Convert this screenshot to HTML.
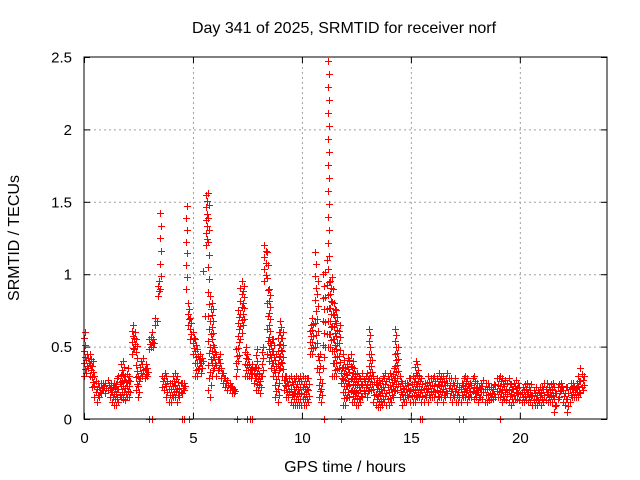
<!DOCTYPE html>
<html><head><meta charset="utf-8"><style>
body{margin:0;background:#fff}
svg{display:block;font-family:"Liberation Sans",sans-serif}
</style></head><body>
<svg id="chart" width="640" height="480">
<text x="344" y="33" text-anchor="middle" font-size="16">Day 341 of 2025, SRMTID for receiver norf</text>
<text transform="translate(19,238) rotate(-90)" text-anchor="middle" font-size="16">SRMTID / TECUs</text>
<text x="345" y="472" text-anchor="middle" font-size="16">GPS time / hours</text>
<g id="grid"></g>
<g id="ticks"></g>
<g id="marks"></g>
<rect x="84" y="57" width="523" height="362" fill="none" stroke="#000" stroke-width="1"/>
</svg>
<script>
const xTicks=[0,5,10,15,20];
const yTicks=[0,0.5,1,1.5,2,2.5];
const yTickLabels=["0","0.5","1","1.5","2","2.5"];
const startHour=0;
const stepHour=0.1;
const hiVals=[
.6,.45,.42,.45,.4,.3,.25,.22,.25,.25,
.25,.27,.25,.22,.25,.28,.3,.38,.4,.3,
.35,.3,.65,.6,.55,.3,.4,.42,.38,.35,
.55,.6,.55,.7,.95,1.42,.3,.32,.3,.25,
.25,.3,.32,.3,.25,.25,.25,1.47,.8,.7,
.6,.55,.48,.45,.42,.4,1.55,1.56,.85,.8,
.5,.45,.45,.35,.32,.28,.27,.25,.22,.21,
.48,.75,.95,.92,.5,.45,.38,.38,.35,.48,
.35,.3,.5,1.2,1.15,.9,.55,.55,.45,.6,
.68,.6,.3,.3,.28,.3,.28,.3,.28,.3,
.3,.28,.28,.28,.65,.7,1.15,.95,.45,.25,
1.0,1.1,2.47,.95,.98,.8,.75,.65,.35,.45,
.35,.42,.45,.4,.35,.32,.3,.28,.32,.3,
.32,.62,.45,.3,.28,.27,.25,.3,.32,.3,
.32,.3,.35,.62,.5,.3,.25,.25,.25,.28,
.28,.3,.4,.38,.3,.28,.25,.25,.3,.28,
.28,.3,.28,.32,.3,.3,.28,.32,.28,.25,
.28,.25,.22,.25,.28,.3,.28,.25,.28,.3,
.25,.22,.25,.27,.25,.25,.22,.22,.24,.28,
.28,.3,.28,.27,.25,.28,.24,.25,.27,.25,
.22,.22,.24,.25,.22,.24,.2,.22,.2,.22,
.22,.25,.25,.22,.24,.25,.22,.22,.24,.25,
.2,.22,.22,.25,.25,.22,.25,.3,.35,.3];
const loVals=[
.3,.32,.35,.3,.22,.15,.12,.15,.18,.2,
.18,.2,.15,.12,.1,.1,.12,.15,.14,.13,
.15,.15,.45,.48,.2,.15,.28,.3,.28,.3,
.48,.5,.5,.65,.85,.9,.22,.2,.15,.12,
.12,.15,.15,.12,.15,.18,.2,.9,.65,.55,
.45,.3,.3,.35,.32,1.02,1.2,.2,.15,.3,
.35,.3,.35,.28,.25,.22,.2,.2,.18,.18,
.3,.4,.55,.65,.3,.3,.3,.28,.25,.2,
.2,.18,.3,.95,.45,.4,.35,.3,.15,.12,
.35,.3,.2,.15,.15,.12,.1,.1,.1,.1,
.1,.1,.1,.12,.45,.45,.5,.35,.15,.12,
.35,.5,.5,.5,.3,.3,.3,.35,.25,.1,
.1,.15,.15,.12,.12,.1,.1,.12,.15,.18,
.15,.2,.2,.12,.1,.08,.08,.1,.12,.1,
.1,.12,.15,.2,.2,.15,.1,.12,.12,.15,
.12,.12,.12,.15,.15,.12,.12,.15,.12,.15,
.15,.15,.12,.15,.15,.12,.15,.18,.15,.12,
.15,.12,.12,.12,.15,.15,.12,.15,.15,.14,
.15,.12,.15,.14,.12,.12,.13,.14,.14,.15,
.15,.15,.12,.14,.13,.12,.1,.12,.14,.14,
.13,.12,.12,.13,.12,.12,.1,.1,.1,.12,
.1,.12,.13,.12,.12,.12,.05,.1,.15,.2,
.12,.1,.05,.12,.15,.15,.15,.15,.18,.2];
const zeroTimes=[3.0,3.1,4.5,4.6,4.8,7.0,7.5,7.6,7.7,11.0,11.8,15.0,15.4,15.5,17.2,17.4,19.1];

const NS="http://www.w3.org/2000/svg";
const X0=84,X1=607,Y0=419,Y1=57,XMAX=24,YMAX=2.5;
function sx(t){return X0+(X1-X0)*t/XMAX;}
function sy(v){return Y0-(Y0-Y1)*v/YMAX;}
const grid=document.getElementById('grid'),ticks=document.getElementById('ticks'),marks=document.getElementById('marks');
function line(p,x1,y1,x2,y2,st,dash){const l=document.createElementNS(NS,'line');l.setAttribute('x1',x1);l.setAttribute('y1',y1);l.setAttribute('x2',x2);l.setAttribute('y2',y2);l.setAttribute('stroke',st);if(dash)l.setAttribute('stroke-dasharray',dash);p.appendChild(l);return l;}
function txt(p,x,y,s,anchor){const t=document.createElementNS(NS,'text');t.setAttribute('x',x);t.setAttribute('y',y);t.setAttribute('font-size','15');t.setAttribute('text-anchor',anchor);t.textContent=s;p.appendChild(t);return t;}
xTicks.forEach(v=>{const x=sx(v)+0.5;
 if(v>0&&v<XMAX){const g=line(grid,x,Y1,x,Y0,'#a0a0a0','2,3');}
 line(ticks,x,Y0,x,Y0-6,'#000');line(ticks,x,Y1,x,Y1+6,'#000');
 const t=txt(ticks,x,443,String(v),'middle');
 
 
});
yTicks.forEach((v,i)=>{const y=sy(v)+0.5;
 if(v>0&&v<YMAX){const g=line(grid,X0,y,X1,y,'#a0a0a0','2,3');}
 line(ticks,X0,y,X0+6,y,'#000');line(ticks,X1,y,X1-6,y,'#000');
 const t=txt(ticks,72,y+5,yTickLabels[i],'end');
 
 
});
function plus(t,v){const x=Math.round(sx(t))+0.5,y=Math.round(sy(v))+0.5;
 const p=document.createElementNS(NS,'path');
 p.setAttribute('d','M'+(x-3.5)+' '+y+'H'+(x+3.5)+'M'+x+' '+(y-3.5)+'V'+(y+3.5));
 p.setAttribute('stroke','#f00');p.setAttribute('fill','none');
 
 
 marks.appendChild(p);}
hiVals.forEach((h,i)=>{const t=startHour+i*stepHour;const lo=loVals[i];
 const r=h-lo;const st=r>0.5?0.09:0.045;
 const n=Math.max(2,Math.ceil(r/st));
 for(let k=0;k<=n;k++){const off=(k%2?0.03:-0.02);plus(t+off,lo+r*k/n);}
});
zeroTimes.forEach(t=>plus(t,0));
</script>
</body></html>
